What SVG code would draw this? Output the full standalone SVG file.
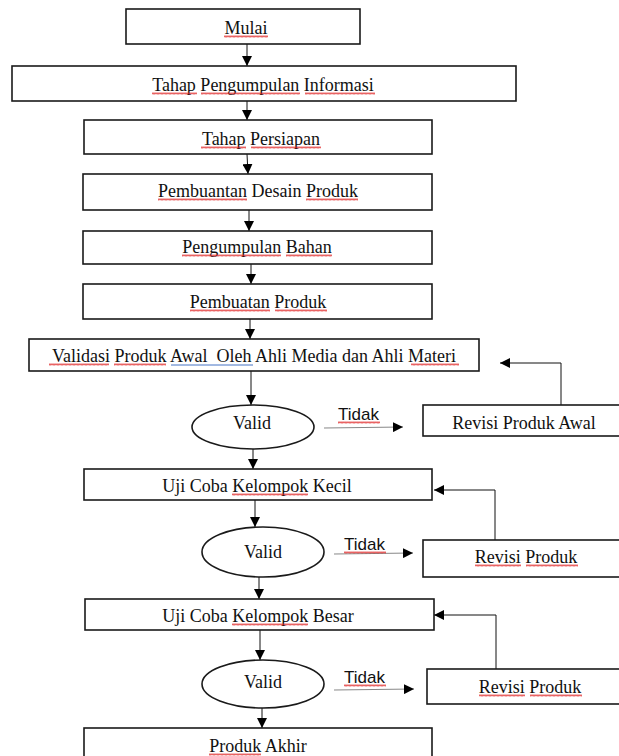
<svg xmlns="http://www.w3.org/2000/svg" width="619" height="756" viewBox="0 0 619 756">
<style>
.box{fill:#fff;stroke:#1a1a1a;stroke-width:1.6}
.t{font-family:"Liberation Serif","Times New Roman",serif;font-size:18px;fill:#111;text-anchor:middle}
.s{font-family:"Liberation Sans",Arial,sans-serif;font-size:17px;fill:#111}
.c{fill:none;stroke:#111;stroke-width:1}
.g{fill:none;stroke:#888;stroke-width:1.2}
</style>
<defs>
<marker id="ah" markerUnits="userSpaceOnUse" markerWidth="10" markerHeight="10" refX="10" refY="5" orient="auto">
<path d="M0,0 L10,5 L0,10 z" fill="#000"/>
</marker>
<pattern id="wave" patternUnits="userSpaceOnUse" x="0" y="0" width="4" height="3">
<path d="M0,2.5 L1,0.5 L2,2.5 L3,0.5 L4,2.5" fill="none" stroke="#e02020" stroke-width="0.7"/>
</pattern>
</defs>
<rect width="619" height="756" fill="#fff"/>
<g id="connectors">
<line class="c" x1="247" y1="44" x2="247" y2="66" marker-end="url(#ah)"/>
<line class="c" x1="247" y1="101" x2="247" y2="120" marker-end="url(#ah)"/>
<line class="c" x1="247" y1="154" x2="248" y2="174" marker-end="url(#ah)"/>
<line class="c" x1="249" y1="210" x2="249" y2="231" marker-end="url(#ah)"/>
<line class="c" x1="251" y1="264" x2="251" y2="284" marker-end="url(#ah)"/>
<line class="c" x1="250" y1="319" x2="250" y2="339" marker-end="url(#ah)"/>
<line class="c" x1="251" y1="371" x2="251" y2="405" marker-end="url(#ah)"/>
<line class="c" x1="253" y1="449" x2="253" y2="469" marker-end="url(#ah)"/>
<line class="c" x1="255" y1="500" x2="255" y2="527" marker-end="url(#ah)"/>
<line class="c" x1="259" y1="577" x2="259" y2="599" marker-end="url(#ah)"/>
<line class="c" x1="260" y1="630" x2="260" y2="660" marker-end="url(#ah)"/>
<line class="c" x1="262" y1="708" x2="262" y2="728" marker-end="url(#ah)"/>
<line class="g" x1="324" y1="428" x2="403" y2="427" marker-end="url(#ah)"/>
<line class="g" x1="334" y1="554" x2="413" y2="553" marker-end="url(#ah)"/>
<line class="g" x1="334" y1="690" x2="414" y2="689" marker-end="url(#ah)"/>
<path class="c" d="M561,405 V363 H500" marker-end="url(#ah)"/>
<path class="c" d="M495,540 V490 H434" marker-end="url(#ah)"/>
<path class="c" d="M496,669 V615 H434" marker-end="url(#ah)"/>
</g>
<g id="mulai"><rect class="box" x="126" y="9" width="234" height="35"/><text class="t" x="246" y="34">Mulai</text></g>
<g id="info"><rect class="box" x="12" y="66" width="504" height="35"/><text class="t" x="263" y="91">Tahap Pengumpulan Informasi</text></g>
<g id="persiapan"><rect class="box" x="84" y="120" width="348" height="34"/><text class="t" x="261" y="145">Tahap Persiapan</text></g>
<g id="desain"><rect class="box" x="83" y="174" width="349" height="36"/><text class="t" x="258" y="197">Pembuantan Desain Produk</text></g>
<g id="bahan"><rect class="box" x="83" y="231" width="349" height="33"/><text class="t" x="257" y="253">Pengumpulan Bahan</text></g>
<g id="pembuatan"><rect class="box" x="83" y="284" width="349" height="35"/><text class="t" x="258" y="308">Pembuatan Produk</text></g>
<g id="validasi"><rect class="box" x="29" y="339" width="450" height="32"/><text class="t" x="254" y="362" xml:space="preserve">Validasi Produk Awal  Oleh Ahli Media dan Ahli Materi</text></g>
<g id="valid1"><ellipse class="box" cx="253" cy="427" rx="61" ry="22"/><text class="t" x="252" y="429">Valid</text></g>
<g id="revisi-awal"><rect class="box" x="423" y="405" width="210" height="31"/><text class="t" x="524" y="429">Revisi Produk Awal</text></g>
<g id="kecil"><rect class="box" x="84" y="469" width="348" height="31"/><text class="t" x="257" y="492">Uji Coba Kelompok Kecil</text></g>
<g id="valid2"><ellipse class="box" cx="263" cy="552" rx="61" ry="25"/><text class="t" x="263" y="558">Valid</text></g>
<g id="revisi2"><rect class="box" x="423" y="540" width="210" height="37"/><text class="t" x="526" y="563">Revisi Produk</text></g>
<g id="besar"><rect class="box" x="85" y="599" width="349" height="31"/><text class="t" x="258" y="622">Uji Coba Kelompok Besar</text></g>
<g id="valid3"><ellipse class="box" cx="263" cy="684" rx="61" ry="24"/><text class="t" x="263" y="688">Valid</text></g>
<g id="revisi3"><rect class="box" x="427" y="669" width="210" height="35"/><text class="t" x="530" y="693">Revisi Produk</text></g>
<g id="akhir"><rect class="box" x="84" y="728" width="348" height="40"/><text class="t" x="258" y="752">Produk Akhir</text></g>
<g id="tidak-labels">
<text class="s" x="338" y="420">Tidak</text>
<text class="s" x="344" y="550">Tidak</text>
<text class="s" x="344" y="683">Tidak</text>
</g>
<g id="spellcheck" fill="url(#wave)">
<rect x="224" y="0" width="44" height="3" transform="translate(0,35)"/>
<rect x="152" y="0" width="45" height="3" transform="translate(0,92)"/>
<rect x="201" y="0" width="99" height="3" transform="translate(0,92)"/>
<rect x="305" y="0" width="70" height="3" transform="translate(0,92)"/>
<rect x="201" y="0" width="45" height="3" transform="translate(0,146)"/>
<rect x="251" y="0" width="70" height="3" transform="translate(0,146)"/>
<rect x="158" y="0" width="89" height="3" transform="translate(0,198)"/>
<rect x="306" y="0" width="52" height="3" transform="translate(0,198)"/>
<rect x="182" y="0" width="99" height="3" transform="translate(0,254)"/>
<rect x="286" y="0" width="46" height="3" transform="translate(0,254)"/>
<rect x="190" y="0" width="80" height="3" transform="translate(0,309)"/>
<rect x="275" y="0" width="52" height="3" transform="translate(0,309)"/>
<rect x="49" y="0" width="60" height="3" transform="translate(0,363)"/>
<rect x="114" y="0" width="52" height="3" transform="translate(0,363)"/>
<rect x="411" y="0" width="48" height="3" transform="translate(0,363)"/>
<rect x="338" y="0" width="42" height="3" transform="translate(0,421)"/>
<rect x="344" y="0" width="42" height="3" transform="translate(0,551)"/>
<rect x="344" y="0" width="42" height="3" transform="translate(0,684)"/>
<rect x="232" y="0" width="76" height="3" transform="translate(0,493)"/>
<rect x="232" y="0" width="76" height="3" transform="translate(0,623)"/>
<rect x="475" y="0" width="46" height="3" transform="translate(0,564)"/>
<rect x="526" y="0" width="52" height="3" transform="translate(0,564)"/>
<rect x="479" y="0" width="46" height="3" transform="translate(0,694)"/>
<rect x="530" y="0" width="52" height="3" transform="translate(0,694)"/>
<rect x="209" y="0" width="52" height="3" transform="translate(0,753)"/>
</g>
<line x1="171" y1="365" x2="253" y2="365" stroke="#4472c4" stroke-width="1"/>
</svg>
